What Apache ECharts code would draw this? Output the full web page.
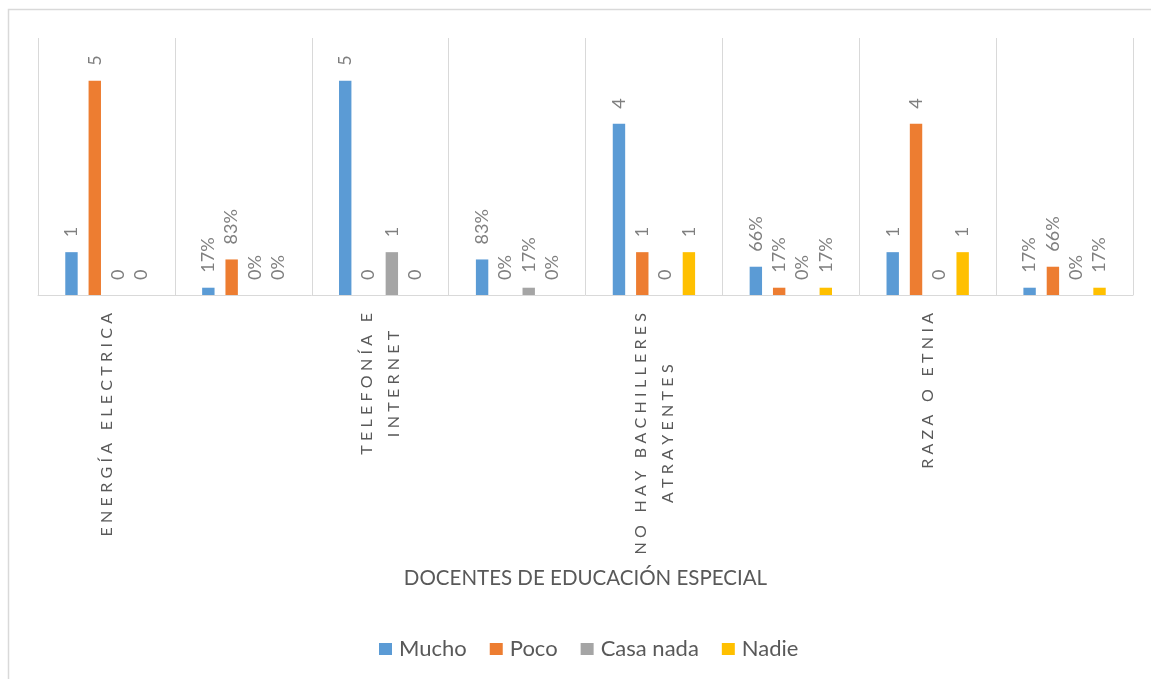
<!DOCTYPE html>
<html>
<head>
<meta charset="utf-8">
<script src="https://cdn.jsdelivr.net/npm/echarts@6/dist/echarts.min.js"></script>
<style>
html,body{margin:0;padding:0;background:#fff;}
#chart{width:1151px;height:679px;}
</style>
</head>
<body>
<div id="chart"></div>
<script>
// ---- data ----
const categories = ['ENERGÍA ELECTRICA', '', 'TELEFONÍA E\nINTERNET', '', 'NO HAY BACHILLERES\nATRAYENTES', '', 'RAZA O ETNIA', ''];
const seriesNames = ['Mucho', 'Poco', 'Casa nada', 'Nadie'];
const mucho    = [1, 0.17, 5, 0.83, 4, 0.66, 1, 0.17];
const poco     = [5, 0.83, 0, 0,    1, 0.17, 4, 0.66];
const casaNada = [0, 0,    1, 0.17, 0, 0,    0, 0];
const nadie    = [0, 0,    0, 0,    1, 0.17, 1, 0.17];
const percentCategory = [false, true, false, true, false, true, false, true];
const axisTitle = 'DOCENTES DE EDUCACIÓN ESPECIAL';

// ---- letter spacing for category labels (drawn char by char on canvas) ----
const spaced = new Set();
categories.forEach(c => c.split('\n').forEach(l => { if (l) spaced.add(l); }));
const LSN = 4.3;
(function () {
  const p = CanvasRenderingContext2D.prototype;
  const of = p.fillText, om = p.measureText;
  p.fillText = function (t, x, y) {
    if (!spaced.has(t)) return of.apply(this, arguments);
    const chars = Array.from(t);
    const widths = chars.map(c => om.call(this, c).width);
    const total = widths.reduce((a, b) => a + b, 0) + LSN * (chars.length - 1);
    const align = this.textAlign;
    let cx = x;
    if (align === 'center') cx = x - total / 2;
    else if (align === 'right' || align === 'end') cx = x - total;
    this.textAlign = 'left';
    chars.forEach((c, i) => { of.call(this, c, cx, y); cx += widths[i] + LSN; });
    this.textAlign = align;
  };
  p.measureText = function (t) {
    if (!spaced.has(t)) return om.apply(this, arguments);
    const m = om.call(this, t);
    const chars = Array.from(t);
    const w = chars.reduce((a, c) => a + om.call(this, c).width, 0) + LSN * (chars.length - 1);
    return {
      width: w,
      actualBoundingBoxAscent: m.actualBoundingBoxAscent,
      actualBoundingBoxDescent: m.actualBoundingBoxDescent,
      actualBoundingBoxLeft: m.actualBoundingBoxLeft,
      actualBoundingBoxRight: w,
      fontBoundingBoxAscent: m.fontBoundingBoxAscent,
      fontBoundingBoxDescent: m.fontBoundingBoxDescent
    };
  };
})();

const FONT = 'Lato, "Open Sans", sans-serif';
const colors = ['#5B9BD5', '#ED7D31', '#A5A5A5', '#FFC000'];
const values = [mucho, poco, casaNada, nadie];

const chart = echarts.init(document.getElementById('chart'), null, {renderer: 'canvas'});
chart.setOption({
  animation: false,
  textStyle: {fontFamily: FONT},
  color: colors,
  graphic: [{
    type: 'rect', silent: true, z: -10,
    shape: {x: 8.5, y: 9.5, width: 1200, height: 720},
    style: {fill: 'none', stroke: '#d9d9d9', lineWidth: 1.5}
  }],
  legend: {
    data: seriesNames,
    left: 374, top: 633,
    itemWidth: 13, itemHeight: 12, itemGap: 23,
    icon: 'rect',
    textStyle: {fontSize: 22, color: '#595959', fontFamily: FONT, padding: [0, 0, 0, 2]}
  },
  grid: {left: 38, right: 18, top: 38, bottom: 384},
  xAxis: {
    type: 'category',
    data: categories,
    name: axisTitle,
    nameLocation: 'middle',
    nameGap: 273,
    nameTextStyle: {fontSize: 20.5, color: '#595959', fontFamily: FONT},
    axisLine: {lineStyle: {color: '#d9d9d9', width: 1}},
    axisTick: {show: false},
    splitLine: {show: true, lineStyle: {color: '#d9d9d9', width: 1}},
    axisLabel: {
      interval: 0, rotate: 90, margin: 18,
      formatter: v => v ? v.split('\n').map(l => '{c|' + l + '}').join('\n') : '',
      rich: {c: {align: 'center', fontSize: 16, color: '#595959', fontFamily: FONT, lineHeight: 27}}
    }
  },
  yAxis: {
    type: 'value', min: 0, max: 6,
    axisLabel: {show: false}, axisLine: {show: false}, axisTick: {show: false},
    splitLine: {show: false}
  },
  series: seriesNames.map((n, i) => ({
    name: n, type: 'bar', data: values[i],
    barWidth: 12.4, barGap: '88%',
    itemStyle: {color: colors[i]},
    label: {
      show: true, position: 'top', rotate: 90, align: 'left', verticalAlign: 'middle',
      distance: 15, fontSize: 18, color: '#7f7f7f', fontFamily: FONT,
      formatter: p => percentCategory[p.dataIndex] ? Math.round(p.value * 100) + '%' : String(p.value)
    }
  }))
});
</script>
</body>
</html>
